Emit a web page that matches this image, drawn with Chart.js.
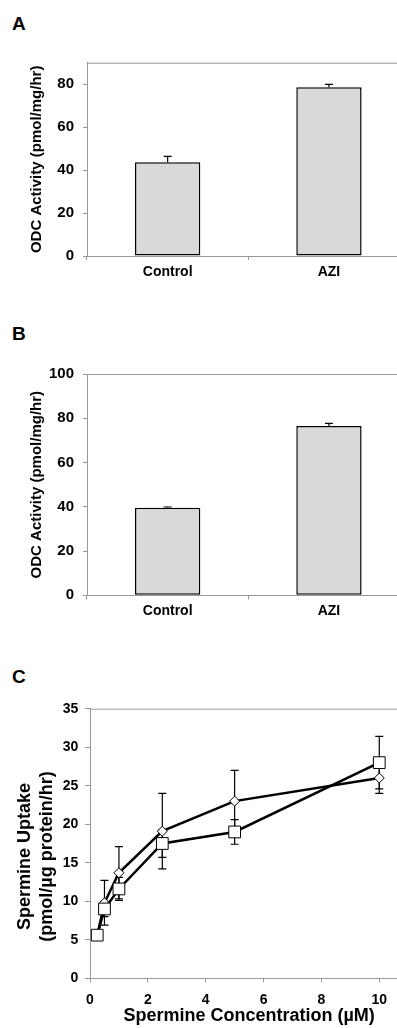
<!DOCTYPE html>
<html>
<head>
<meta charset="utf-8">
<script src="https://cdn.jsdelivr.net/npm/chart.js@4.4.1/dist/chart.umd.min.js"></script>
<style>
  html, body { margin: 0; padding: 0; background: #fff; }
  body { width: 397px; height: 1028px; overflow: hidden; position: relative; }
  canvas { position: absolute; left: 0; }
  .tag { position: absolute; left: 12px; font: bold 19px 'Liberation Sans', Arial, sans-serif; line-height: 19px; }
</style>
</head>
<body>
<div class="tag" style="top:14px">A</div>
<canvas id="chartA" width="440" height="290" style="top:0px; width:440px; height:290px"></canvas>
<div class="tag" style="top:324px">B</div>
<canvas id="chartB" width="440" height="340" style="top:290px; width:440px; height:340px"></canvas>
<div class="tag" style="top:667px">C</div>
<canvas id="chartC" width="440" height="398" style="top:630px; width:440px; height:398px"></canvas>
<script>
// panels A and B: ODC activity
const groups = ['Control', 'AZI'];
const odcA = [43.7, 78.6];
const odcAErr = [2.7, 1.3];
const odcB = [39.6, 76.5];
const odcBErr = [0.3, 1.2];
const ticksA = [0, 20, 40, 60, 80];
const ticksB = [0, 20, 40, 60, 80, 100];

// panel C: spermine uptake
const sperConc = [0.25, 0.5, 1, 2.5, 5, 10];
const uptakeSquare = [5.6, 9.0, 11.6, 17.5, 19.0, 28.0];
const uptakeSquareErr = [0.3, 1.0, 1.5, 1.8, 1.6, 3.4];
const uptakeDiamond = [5.6, 9.8, 13.7, 19.1, 23.0, 26.0];
const uptakeDiamondErr = [0.3, 2.9, 3.4, 4.9, 4.0, 2.0];
const ticksCx = [0, 2, 4, 6, 8, 10];
const ticksCy = [0, 5, 10, 15, 20, 25, 30, 35];
const yTitleC = ['Spermine Uptake', '(pmol/µg protein/hr)'];

const axisGray = '#999';
const FONT = "'Liberation Sans', Arial, sans-serif";
Chart.defaults.font.family = FONT;
Chart.defaults.color = '#000';

// top/right frame lines like the excel plot area
const frame = {
  id: 'frame',
  beforeDatasetsDraw(chart) {
    const { ctx, chartArea: a } = chart;
    ctx.save();
    ctx.strokeStyle = axisGray;
    ctx.lineWidth = 1;
    ctx.beginPath();
    ctx.moveTo(a.left, a.top + 0.5);
    ctx.lineTo(a.right - 0.5, a.top + 0.5);
    ctx.lineTo(a.right - 0.5, a.bottom);
    ctx.stroke();
    ctx.restore();
  }
};

const errorBars = {
  id: 'errorBars',
  beforeDatasetsDraw(chart) {
    const ctx = chart.ctx;
    const y = chart.scales.y;
    chart.data.datasets.forEach((ds, i) => {
      if (!ds.errors) return;
      const meta = chart.getDatasetMeta(i);
      ctx.save();
      ctx.strokeStyle = '#000';
      ctx.lineWidth = 1.2;
      meta.data.forEach((el, j) => {
        const d = ds.data[j];
        const v = typeof d === 'object' ? d.y : d;
        const e = ds.errors[j];
        const top = y.getPixelForValue(v + e);
        const bot = y.getPixelForValue(ds.plusOnly ? v : v - e);
        ctx.beginPath();
        ctx.moveTo(el.x, bot);
        ctx.lineTo(el.x, top);
        ctx.moveTo(el.x - 4, top);
        ctx.lineTo(el.x + 4, top);
        if (!ds.plusOnly) {
          ctx.moveTo(el.x - 4, bot);
          ctx.lineTo(el.x + 4, bot);
        }
        ctx.stroke();
      });
      ctx.restore();
    });
  }
};

const stackedTitle = {
  id: 'stackedTitle',
  afterDraw(chart, args, opts) {
    if (!opts.lines) return;
    const { ctx, chartArea: a } = chart;
    ctx.save();
    ctx.translate(chart.scales.y.left + 25, (a.top + a.bottom) / 2 + 13);
    ctx.rotate(-Math.PI / 2);
    ctx.font = 'bold 18px ' + FONT;
    ctx.fillStyle = '#000';
    ctx.textAlign = 'center';
    ctx.textBaseline = 'middle';
    opts.lines.forEach((t, i) => ctx.fillText(t, 0, i * 21.7));
    ctx.restore();
  }
};

function barChart(id, values, errs, yTicks, yMax, padTop, xHeight) {
  return new Chart(document.getElementById(id), {
    type: 'bar',
    data: {
      labels: groups,
      datasets: [{
        data: values,
        errors: errs,
        plusOnly: true,
        backgroundColor: '#d9d9d9',
        borderColor: '#000',
        borderWidth: 1.5,
        borderSkipped: false,
        barPercentage: 0.405,
        categoryPercentage: 1
      }]
    },
    options: {
      responsive: false,
      animation: false,
      devicePixelRatio: 1,
      layout: { padding: { left: 0, top: padTop, right: 30.4, bottom: 0 } },
      plugins: { legend: { display: false }, tooltip: { enabled: false } },
      scales: {
        x: {
          grid: { offset: true, drawOnChartArea: false, color: axisGray, tickLength: 4 },
          border: { color: axisGray },
          ticks: { font: { size: 14, weight: 'bold' }, padding: 3.3 },
          afterFit: s => { s.height = xHeight; }
        },
        y: {
          min: 0,
          max: yMax,
          afterBuildTicks: s => { s.ticks = yTicks.map(v => ({ value: v })); },
          grid: { drawOnChartArea: false, color: axisGray, tickLength: 4 },
          border: { color: axisGray },
          ticks: { font: { size: 15, weight: 'bold' }, padding: 9 },
          title: {
            display: true,
            text: 'ODC Activity (pmol/mg/hr)',
            font: { size: 15, weight: 'bold' },
            padding: { top: 28.3, bottom: 0 }
          },
          afterFit: s => { s.width = 87; }
        }
      }
    },
    plugins: [frame, errorBars]
  });
}

barChart('chartA', odcA, odcAErr, ticksA, 90, 62.7, 34);
barChart('chartB', odcB, odcBErr, ticksB, 100, 84, 34.7);

const pts = ys => sperConc.map((x, i) => ({ x: x, y: ys[i] }));

new Chart(document.getElementById('chartC'), {
  type: 'line',
  data: {
    datasets: [
      {
        data: pts(uptakeSquare),
        errors: uptakeSquareErr,
        borderColor: '#000',
        borderWidth: 2.5,
        tension: 0,
        pointStyle: 'rect',
        pointRadius: 8.3,
        pointBorderWidth: 1,
        pointBackgroundColor: '#fff',
        pointBorderColor: '#000'
      },
      {
        data: pts(uptakeDiamond),
        errors: uptakeDiamondErr,
        borderColor: '#000',
        borderWidth: 2.5,
        tension: 0,
        pointStyle: 'rectRot',
        pointRadius: 5,
        pointBorderWidth: 1,
        pointBackgroundColor: '#fff',
        pointBorderColor: '#000'
      }
    ]
  },
  options: {
    responsive: false,
    animation: false,
    devicePixelRatio: 1,
    layout: { padding: { left: 0, top: 78.7, right: 31.8, bottom: 0 } },
    plugins: {
      legend: { display: false },
      tooltip: { enabled: false },
      stackedTitle: { lines: yTitleC }
    },
    scales: {
      x: {
        type: 'linear',
        min: 0,
        max: 11,
        afterBuildTicks: s => { s.ticks = ticksCx.map(v => ({ value: v })); },
        grid: { drawOnChartArea: false, color: axisGray, tickLength: 4 },
        border: { color: axisGray },
        ticks: { font: { size: 14, weight: 'bold' }, padding: 9.6 },
        title: {
          display: true,
          text: 'Spermine Concentration (µM)',
          font: { size: 18, weight: 'bold' },
          padding: { top: 0, bottom: 1.2 }
        },
        afterFit: s => { s.height = 49.7; }
      },
      y: {
        min: 0,
        max: 35,
        afterBuildTicks: s => { s.ticks = ticksCy.map(v => ({ value: v })); },
        grid: { drawOnChartArea: false, color: axisGray, tickLength: 5 },
        border: { color: axisGray },
        ticks: { font: { size: 14, weight: 'bold' }, padding: 6.7 },
        afterFit: s => { s.width = 90; }
      }
    }
  },
  plugins: [frame, errorBars, stackedTitle]
});
</script>
</body>
</html>
